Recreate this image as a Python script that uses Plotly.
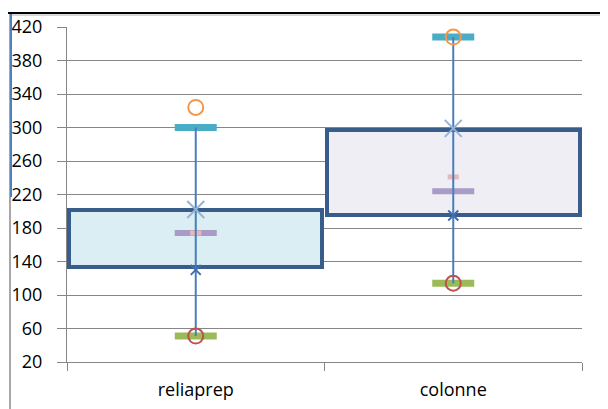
import plotly.graph_objects as go

categories = ["reliaprep", "colonne"]
box_low = [134, 195]
box_high = [201, 297]
whisker_max = [300, 408]
whisker_min = [51, 114]
mean_vals = [174, 224]
median_vals = [174, 241]
outlier_high = [324, 408]
outlier_low = [51, 114]
q3_marks = [202, 299]
q1_marks = [130, 195]
box_fill = ["#DAEEF3", "#F0EEF5"]
y_ticks = [20, 60, 100, 140, 180, 220, 260, 300, 340, 380, 420]

fig = go.Figure()

fig.add_trace(go.Bar(
    x=categories, y=[h - l for h, l in zip(box_high, box_low)], base=box_low,
    width=0.982, marker=dict(color=box_fill, line=dict(color="#385D8A", width=4)),
    cliponaxis=False, showlegend=False, hoverinfo="skip"))

def dash(y, color, size, width):
    fig.add_trace(go.Scatter(
        x=categories, y=y, mode="markers", showlegend=False, cliponaxis=False,
        marker=dict(symbol="line-ew", size=size, color=color,
                    line=dict(color=color, width=width))))

dash(whisker_max, "#4BACC6", 30, 7)
dash(whisker_min, "#9BBB59", 30, 7)
dash(mean_vals, "#A99BC7", 30, 6)
dash(median_vals, "#E6B9B8", 8, 5)

for c, lo, hi in zip(categories, whisker_min, whisker_max):
    fig.add_trace(go.Scatter(x=[c, c], y=[lo, hi], mode="lines", showlegend=False,
                             line=dict(color="#4A7EBB", width=2)))

fig.add_trace(go.Scatter(x=categories, y=outlier_high, mode="markers", showlegend=False,
                         cliponaxis=False,
                         marker=dict(symbol="circle-open", size=15, color="#F79646",
                                     line=dict(color="#F79646", width=2))))
fig.add_trace(go.Scatter(x=categories, y=outlier_low, mode="markers", showlegend=False,
                         cliponaxis=False,
                         marker=dict(symbol="circle-open", size=15, color="#C0504D",
                                     line=dict(color="#C0504D", width=2))))
fig.add_trace(go.Scatter(x=categories, y=q3_marks, mode="markers", showlegend=False,
                         marker=dict(symbol="x-thin-open", size=17, color="#95B3D7",
                                     line=dict(color="#95B3D7", width=2))))
fig.add_trace(go.Scatter(x=categories, y=q1_marks, mode="markers", showlegend=False,
                         marker=dict(symbol="x-thin-open", size=10, color="#3F6FB0",
                                     line=dict(color="#3F6FB0", width=2))))

# page has an 8px body margin, so the figure is offset by 8px
OFF = 8
L, R, T, B = 67 - OFF, 26, 27 - OFF, 47
W, H = 608 - OFF, 409 - OFF
pw, ph = W - L - R, H - T - B
def px(x):
    return (x - OFF - L) / pw
def py(y):
    return (H - B - (y - OFF)) / ph

shapes = [
    dict(type="line", xref="paper", yref="paper", x0=px(6), x1=px(612), y0=py(13), y1=py(13),
         line=dict(color="#000000", width=2)),
    dict(type="line", xref="paper", yref="paper", x0=px(9), x1=px(612), y0=py(15), y1=py(15),
         line=dict(color="#B0B0B0", width=1)),
    dict(type="line", xref="paper", yref="paper", x0=px(7), x1=px(7), y0=py(12), y1=py(415),
         line=dict(color="#000000", width=2)),
    dict(type="line", xref="paper", yref="paper", x0=px(10), x1=px(10), y0=py(14), y1=py(415),
         line=dict(color="#A8A8A8", width=2)),
    dict(type="line", xref="paper", yref="paper", x0=px(11), x1=px(11), y0=py(14), y1=py(197),
         line=dict(color="#4F81BD", width=2)),
]

fig.update_layout(
    width=W, height=H, margin=dict(l=L, r=R, t=T, b=B, autoexpand=False),
    paper_bgcolor="white", plot_bgcolor="white",
    font=dict(family="Open Sans", size=18, color="#000000"),
    shapes=shapes, bargap=0,
    xaxis=dict(type="category", range=[-0.5, 1.5], showgrid=False, showline=True,
               linecolor="#878787", linewidth=1, ticks="outside", tickson="boundaries",
               ticklen=8, tickcolor="#878787", ticklabelstandoff=11, zeroline=False),
    yaxis=dict(range=[20, 420], tickmode="array", tickvals=y_ticks,
               ticktext=[str(v) for v in y_ticks], showgrid=True, gridcolor="#878787",
               gridwidth=1, showline=True, linecolor="#878787", ticks="outside",
               ticklen=9, tickcolor="#878787", ticklabelstandoff=11, zeroline=False),
)

fig.write_html("out.html")
